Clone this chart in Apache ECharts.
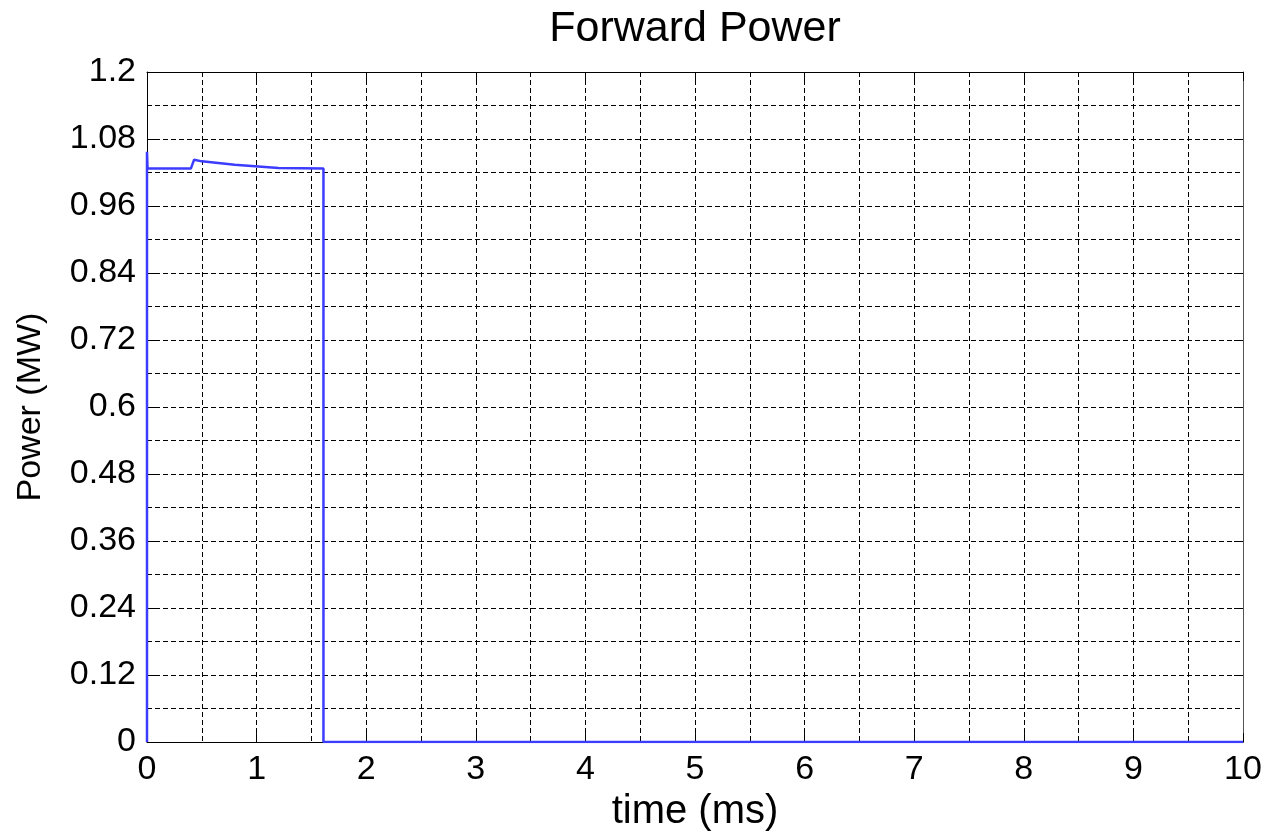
<!DOCTYPE html>
<html>
<head>
<meta charset="utf-8">
<script src="https://cdn.jsdelivr.net/npm/echarts@6/dist/echarts.min.js"></script>
<style>
html,body{margin:0;padding:0;background:#fff;}
#chart{width:1274px;height:837px;}
</style>
</head>
<body>
<div id="chart"></div>
<script>
// Data
var timeMs = [0, 0, 0.005, 0.40, 0.43, 0.50, 0.80, 1.20, 1.61, 1.61, 10];
var powerMW = [0, 1.057, 1.027, 1.027, 1.043, 1.040, 1.034, 1.028, 1.027, 0, 0];
var yTickLabels = ['0', '0.12', '0.24', '0.36', '0.48', '0.6', '0.72', '0.84', '0.96', '1.08', '1.2'];
var xTickLabels = ['0', '1', '2', '3', '4', '5', '6', '7', '8', '9', '10'];

var FONT = 'Liberation Sans, Arial, sans-serif';
var pts = timeMs.map(function (t, i) { return [t, powerMW[i]]; });

var gridLine = { show: true, lineStyle: { color: '#000', width: 1, type: [5, 3] } };

var chart = echarts.init(document.getElementById('chart'), null, { renderer: 'canvas' });
chart.setOption({
  animation: false,
  backgroundColor: '#fff',
  title: {
    text: 'Forward Power',
    left: 695,
    textAlign: 'center',
    top: 8,
    padding: 0,
    textStyle: { fontFamily: FONT, fontSize: 43, fontWeight: 'normal', color: '#000' }
  },
  grid: { left: 147, right: 31, top: 72, bottom: 93, containLabel: false },
  xAxis: [{
    type: 'value', min: 0, max: 10, interval: 1, position: 'bottom',
    name: 'time (ms)', nameLocation: 'middle', nameGap: 46,
    nameTextStyle: { fontFamily: FONT, fontSize: 40, color: '#000' },
    axisLine: { show: true, onZero: false, lineStyle: { color: '#000', width: 1 } },
    axisTick: { show: true, inside: true, length: 9, lineStyle: { color: '#000' } },
    axisLabel: { fontFamily: FONT, fontSize: 34, color: '#000', margin: 11,
      formatter: function (v) { return xTickLabels[Math.round(v)]; } },
    splitLine: gridLine,
    minorTick: { show: false, splitNumber: 2 },
    minorSplitLine: gridLine
  }, {
    type: 'value', min: 0, max: 10, interval: 1, position: 'top',
    axisLine: { show: true, onZero: false, lineStyle: { color: '#000', width: 1 } },
    axisTick: { show: true, inside: true, length: 9, lineStyle: { color: '#000' } },
    axisLabel: { show: false }, splitLine: { show: false }
  }],
  yAxis: [{
    type: 'value', min: 0, max: 1.2, interval: 0.12, position: 'left',
    name: 'Power (MW)', nameLocation: 'middle', nameGap: 99, nameRotate: 90,
    nameTextStyle: { fontFamily: FONT, fontSize: 34, color: '#000' },
    axisLine: { show: true, onZero: false, lineStyle: { color: '#000', width: 1 } },
    axisTick: { show: true, inside: true, length: 9, lineStyle: { color: '#000' } },
    axisLabel: { fontFamily: FONT, fontSize: 34, color: '#000', margin: 11,
      formatter: function (v) { return yTickLabels[Math.round(v / 0.12)]; } },
    splitLine: gridLine,
    minorTick: { show: false, splitNumber: 2 },
    minorSplitLine: gridLine
  }, {
    type: 'value', min: 0, max: 1.2, interval: 0.12, position: 'right',
    axisLine: { show: true, onZero: false, lineStyle: { color: '#555', width: 1 } },
    axisTick: { show: true, inside: true, length: 9, lineStyle: { color: '#000' } },
    axisLabel: { show: false }, splitLine: { show: false }
  }],
  series: [{
    type: 'line',
    xAxisIndex: 0, yAxisIndex: 0,
    data: pts,
    showSymbol: false,
    symbol: 'none',
    z: 10,
    lineStyle: { color: '#3c3cff', width: 2.5 }
  }]
});
</script>
</body>
</html>
